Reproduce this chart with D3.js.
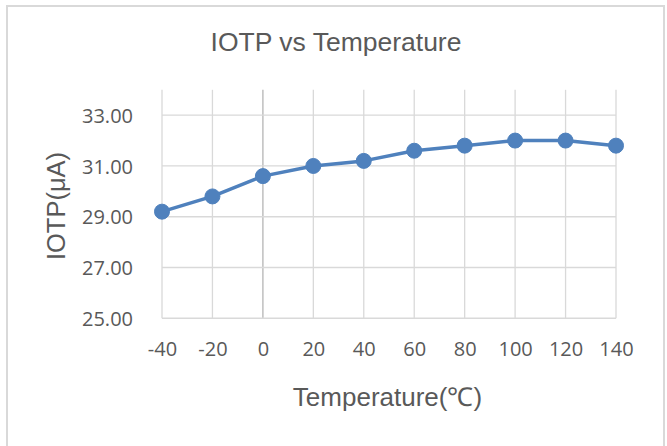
<!DOCTYPE html>
<html>
<head>
<meta charset="utf-8">
<script src="https://cdn.jsdelivr.net/npm/d3@7"></script>
<style>
  html, body { margin: 0; padding: 0; background: #fff; }
  svg { display: block; }
</style>
</head>
<body>
<svg id="chart" width="667" height="446"></svg>
<script>
const temperatures = [-40, -20, 0, 20, 40, 60, 80, 100, 120, 140];
const iotpValues = [29.2, 29.8, 30.6, 31.0, 31.2, 31.6, 31.8, 32.0, 32.0, 31.8];
const xTicks = [-40, -20, 0, 20, 40, 60, 80, 100, 120, 140];
const yTicks = [25, 27, 29, 31, 33];
const titleText = "IOTP vs Temperature";
const xTitleText = "Temperature(\u2103)";
const yTitleText = "IOTP(\u03bcA)";

const svg = d3.select("#chart");
const W = 667, H = 446;

svg.append("rect").attr("x", 0).attr("y", 0).attr("width", W).attr("height", H).attr("fill", "#fff");
svg.append("rect").attr("x", 7).attr("y", 6).attr("width", 657).attr("height", 460)
  .attr("fill", "none").attr("stroke", "#d9d9d9").attr("stroke-width", 2);

const x = d3.scaleLinear().domain([-40, 140]).range([162, 616]);
const y = d3.scaleLinear().domain([25, 34]).range([318.3, 89.8]);

const grid = svg.append("g");
grid.selectAll("line.v").data(xTicks).join("line")
  .attr("x1", d => x(d)).attr("x2", d => x(d))
  .attr("y1", y(34)).attr("y2", y(25))
  .attr("stroke", d => d === 0 ? "#bfbfbf" : "#d9d9d9")
  .attr("stroke-width", d => d === 0 ? 1.5 : 1.3);
grid.selectAll("line.h").data(yTicks.filter(d => d !== 25)).join("line")
  .attr("x1", x(-40)).attr("x2", x(140))
  .attr("y1", d => y(d)).attr("y2", d => y(d))
  .attr("stroke", "#d9d9d9").attr("stroke-width", 1.3);
svg.append("line").attr("x1", x(-40)).attr("x2", x(140)).attr("y1", y(25)).attr("y2", y(25))
  .attr("stroke", "#d9d9d9").attr("stroke-width", 1.5);

const xAxis = d3.axisBottom(x).tickValues(xTicks).tickSize(0).tickPadding(0).tickFormat(d => String(d));
const gx = svg.append("g").attr("transform", `translate(0, ${y(25)})`).call(xAxis);
gx.select(".domain").remove();
gx.selectAll("text").attr("dy", null).attr("y", 38)
  .attr("font-family", "'Open Sans', sans-serif").attr("font-size", 20).attr("fill", "#595959");

const yAxis = d3.axisLeft(y).tickValues(yTicks).tickSize(0).tickPadding(0).tickFormat(d => d.toFixed(2));
const gy = svg.append("g").attr("transform", `translate(133, 0)`).call(yAxis);
gy.select(".domain").remove();
gy.selectAll("text").attr("x", 0).attr("dy", "0.36em")
  .attr("font-family", "'Open Sans', sans-serif").attr("font-size", 20).attr("fill", "#595959");

const line = d3.line().x((d, i) => x(temperatures[i])).y(d => y(d));
svg.append("path").datum(iotpValues).attr("d", line)
  .attr("fill", "none").attr("stroke", "#4f81bd").attr("stroke-width", 3.5).attr("stroke-linejoin", "round");
svg.selectAll("circle.pt").data(iotpValues).join("circle")
  .attr("cx", (d, i) => x(temperatures[i])).attr("cy", d => y(d)).attr("r", 7.5)
  .attr("fill", "#4f81bd").attr("stroke", "#4f81bd").attr("stroke-width", 1);

svg.append("text").attr("x", 336).attr("y", 51).attr("text-anchor", "middle")
  .attr("font-family", "'Liberation Sans', Arial, sans-serif").attr("font-size", 26.5).attr("fill", "#595959")
  .text(titleText);
svg.append("text").attr("x", 387.5).attr("y", 406).attr("text-anchor", "middle")
  .attr("font-family", "'Liberation Sans', Arial, sans-serif").attr("font-size", 26).attr("fill", "#595959")
  .text(xTitleText);
svg.append("text").attr("transform", "translate(65, 206) rotate(-90)").attr("text-anchor", "middle")
  .attr("font-family", "'Liberation Sans', Arial, sans-serif").attr("font-size", 25.5).attr("fill", "#595959")
  .text(yTitleText);
</script>
</body>
</html>
